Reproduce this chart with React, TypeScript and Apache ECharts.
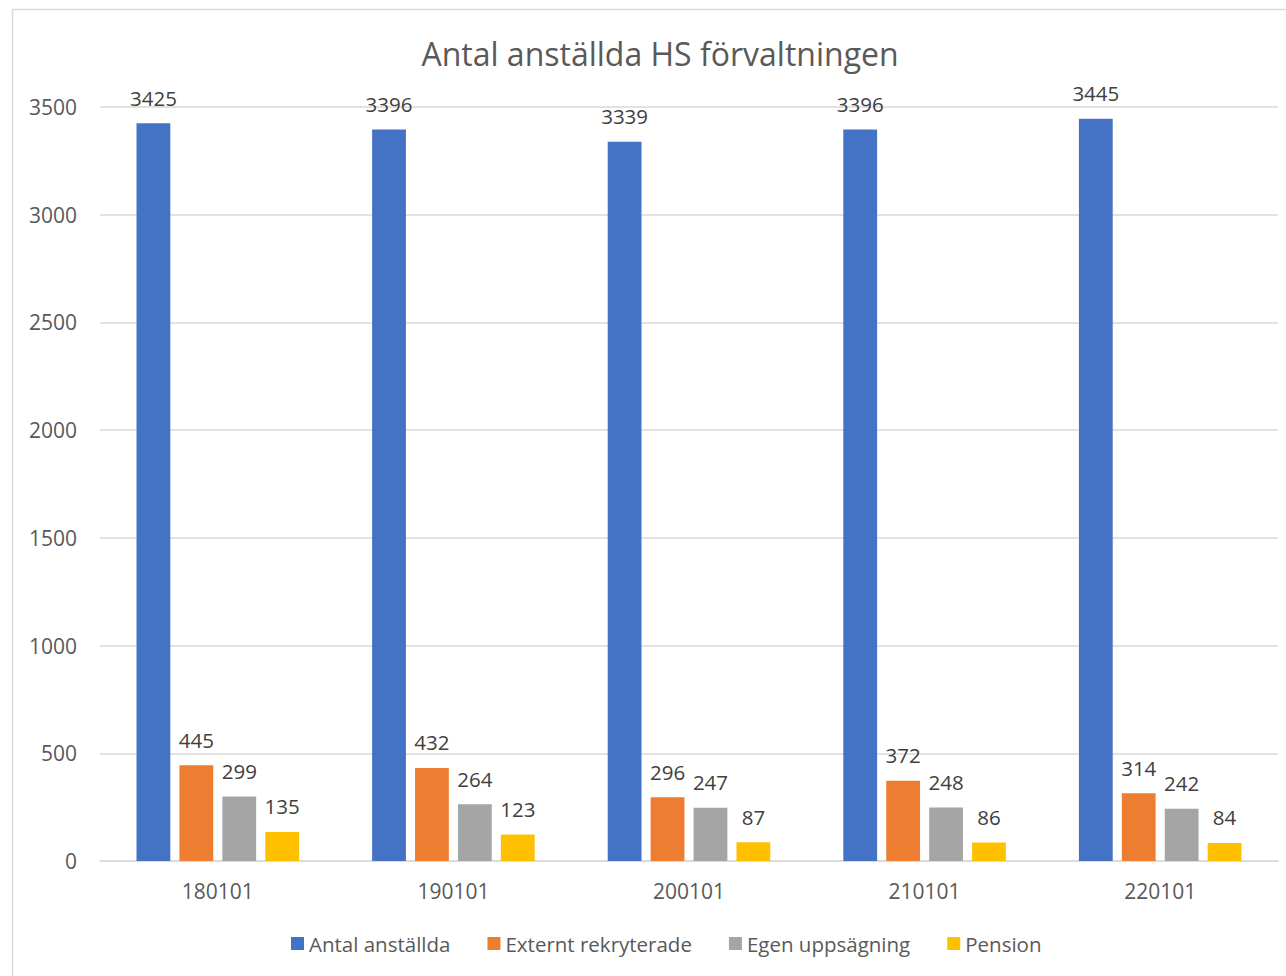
import React, { useEffect, useRef } from "react";
import * as echarts from "echarts";

const categories = ["180101", "190101", "200101", "210101", "220101"];
const antalAnstallda = [3425, 3396, 3339, 3396, 3445];
const externtRekryterade = [445, 432, 296, 372, 314];
const egenUppsagning = [299, 264, 247, 248, 242];
const pension = [135, 123, 87, 86, 84];
const seriesNames = ["Antal anställda", "Externt rekryterade", "Egen uppsägning", "Pension"];
const colors = ["#4472C4", "#ED7D31", "#A5A5A5", "#FFC000"];

export default function App() {
  const ref = useRef<HTMLDivElement>(null);
  useEffect(() => {
    document.body.style.margin = "0";
    const chart = echarts.init(ref.current!, null, { renderer: "svg" });
    const font = "'Open Sans', 'Noto Sans', sans-serif";
    const data = [antalAnstallda, externtRekryterade, egenUppsagning, pension];
    chart.setOption({
      animation: false,
      backgroundColor: "#ffffff",
      textStyle: { fontFamily: font },
      title: {
        text: "Antal anställda HS förvaltningen",
        left: 655,
        textAlign: "center",
        top: 32,
        textStyle: { fontFamily: font, fontSize: 32, fontWeight: "normal", color: "#595959" },
      },
      graphic: [
        {
          type: "rect",
          shape: { x: 12.5, y: 9.5, width: 1400, height: 1100 },
          style: { fill: "none", stroke: "#d9d9d9", lineWidth: 1.5 },
          silent: true,
          z: -1,
        },
      ],
      legend: {
        bottom: 17,
        left: 286,
        itemWidth: 13,
        itemHeight: 13,
        itemGap: 37,
        icon: "rect",
        textStyle: { fontFamily: font, fontSize: 20.5, color: "#595959" },
        data: seriesNames,
      },
      grid: { left: 100, right: 8, top: 107, bottom: 115 },
      xAxis: {
        type: "category",
        data: categories,
        axisLine: { lineStyle: { color: "#d9d9d9", width: 1.5 } },
        axisTick: { show: false },
        axisLabel: { fontFamily: font, fontSize: 21, color: "#595959", margin: 19 },
      },
      yAxis: {
        type: "value",
        min: 0,
        max: 3500,
        interval: 500,
        axisLine: { show: false },
        axisTick: { show: false },
        splitLine: { lineStyle: { color: "#d9d9d9", width: 1.5 } },
        axisLabel: {
          fontFamily: font,
          fontSize: 21,
          color: "#595959",
          margin: 23,
          formatter: (v: number) => String(v),
        },
      },
      series: seriesNames.map((name, i) => ({
        name,
        type: "bar",
        data: data[i],
        barGap: "27%",
        barCategoryGap: "31%",
        itemStyle: { color: colors[i] },
        label: {
          show: true,
          position: "top",
          distance: 15,
          fontFamily: font,
          fontSize: 20.5,
          color: "#404040",
        },
      })),
    });
    return () => chart.dispose();
  }, []);
  return <div ref={ref} style={{ width: 1286, height: 976 }} />;
}
